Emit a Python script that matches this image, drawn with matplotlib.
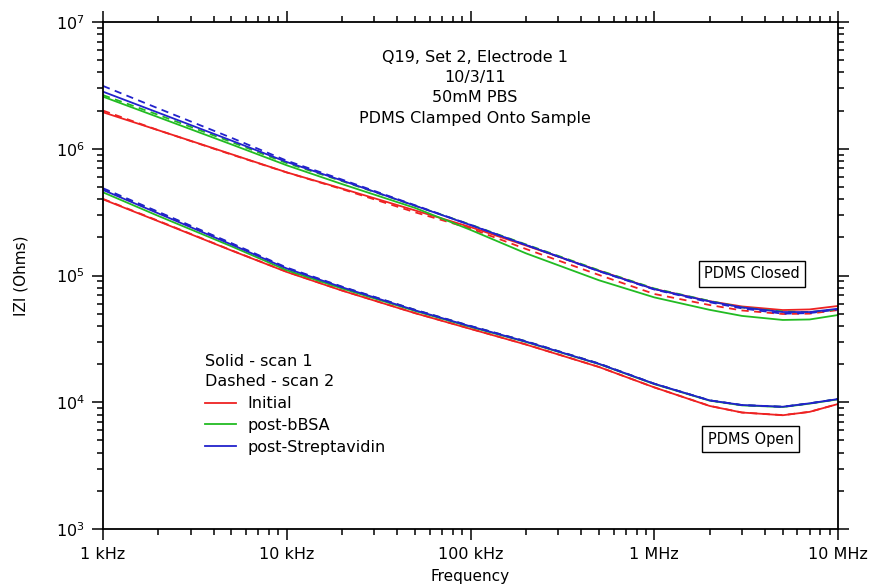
import matplotlib
matplotlib.use("Agg")
import matplotlib.pyplot as plt
from matplotlib.ticker import FixedLocator, LogLocator, NullFormatter, FixedFormatter

plt.rcParams['font.family'] = ['DejaVu Sans']

# frequencies (Hz)
freq = [1e3, 2e3, 5e3, 1e4, 2e4, 5e4, 1e5, 2e5, 5e5, 1e6, 2e6, 3e6, 5e6, 7e6, 1e7]

# PDMS closed, |Z| in Ohms
closed_init_1 = [1.94e6, 1.40e6, 9.06e5, 6.51e5, 4.85e5, 3.26e5, 2.41e5, 1.725e5, 1.093e5, 7.83e4, 6.27e4, 5.7e4, 5.34e4, 5.4e4, 5.75e4]
closed_init_2 = [2.00e6, 1.40e6, 9.00e5, 6.50e5, 4.80e5, 3.15e5, 2.35e5, 1.62e5, 1.01e5, 7.15e4, 5.85e4, 5.3e4, 4.97e4, 5.0e4, 5.34e4]
closed_bbsa_1 = [2.575e6, 1.774e6, 1.082e6, 7.40e5, 5.26e5, 3.41e5, 2.29e5, 1.497e5, 9.17e4, 6.72e4, 5.36e4, 4.8e4, 4.46e4, 4.5e4, 4.88e4]
closed_bbsa_2 = [2.65e6, 1.85e6, 1.13e6, 7.70e5, 5.55e5, 3.55e5, 2.52e5, 1.76e5, 1.10e5, 7.90e4, 6.30e4, 5.6e4, 5.2e4, 5.15e4, 5.4e4]
closed_strep_1 = [2.82e6, 1.925e6, 1.16e6, 7.86e5, 5.61e5, 3.55e5, 2.50e5, 1.743e5, 1.085e5, 7.81e4, 6.25e4, 5.6e4, 5.15e4, 5.15e4, 5.47e4]
closed_strep_2 = [3.13e6, 2.08e6, 1.22e6, 8.05e5, 5.71e5, 3.58e5, 2.51e5, 1.74e5, 1.08e5, 7.75e4, 6.15e4, 5.5e4, 5.0e4, 5.05e4, 5.4e4]

# PDMS open, |Z| in Ohms
open_init_1 = [3.99e5, 2.68e5, 1.575e5, 1.066e5, 7.60e4, 5.04e4, 3.79e4, 2.855e4, 1.897e4, 1.31e4, 9.35e3, 8.3e3, 7.9e3, 8.4e3, 9.69e3]
open_init_2 = [4.02e5, 2.70e5, 1.58e5, 1.07e5, 7.62e4, 5.05e4, 3.80e4, 2.86e4, 1.90e4, 1.31e4, 9.37e3, 8.3e3, 7.92e3, 8.4e3, 9.7e3]
open_bbsa_1 = [4.53e5, 2.95e5, 1.70e5, 1.10e5, 7.90e4, 5.25e4, 3.93e4, 2.99e4, 2.00e4, 1.39e4, 1.03e4, 9.45e3, 9.17e3, 9.75e3, 1.055e4]
open_bbsa_2 = [4.80e5, 3.15e5, 1.78e5, 1.14e5, 8.12e4, 5.35e4, 3.99e4, 3.03e4, 2.02e4, 1.40e4, 1.035e4, 9.5e3, 9.22e3, 9.8e3, 1.06e4]
open_strep_1 = [4.73e5, 3.09e5, 1.756e5, 1.136e5, 8.07e4, 5.31e4, 3.97e4, 3.01e4, 2.01e4, 1.40e4, 1.035e4, 9.51e3, 9.22e3, 9.81e3, 1.06e4]
open_strep_2 = [4.88e5, 3.18e5, 1.80e5, 1.155e5, 8.17e4, 5.36e4, 4.00e4, 3.03e4, 2.02e4, 1.40e4, 1.035e4, 9.5e3, 9.2e3, 9.8e3, 1.06e4]

labels = ['Initial', 'post-bBSA', 'post-Streptavidin']
colors = ['#ee2222', '#22bb22', '#2222cc']

tick_vals = [1e3, 1e4, 1e5, 1e6, 1e7]
tick_labels = ['1 kHz', '10 kHz', '100 kHz', '1 MHz', '10 MHz']

fig = plt.figure(figsize=(8.73, 5.85), dpi=100)
ax = fig.add_axes([0.118, 0.0957, 0.842, 0.8667])

solid = [(closed_init_1, open_init_1), (closed_bbsa_1, open_bbsa_1), (closed_strep_1, open_strep_1)]
dashed = [(closed_init_2, open_init_2), (closed_bbsa_2, open_bbsa_2), (closed_strep_2, open_strep_2)]

handles = []
for i in range(3):
    h, = ax.plot(freq, solid[i][0], color=colors[i], lw=1.3, label=labels[i])
    ax.plot(freq, solid[i][1], color=colors[i], lw=1.3)
    ax.plot(freq, dashed[i][0], color=colors[i], lw=1.3, dashes=(4, 3))
    ax.plot(freq, dashed[i][1], color=colors[i], lw=1.3, dashes=(4, 3))
    handles.append(h)

ax.set_xscale('log')
ax.set_yscale('log')
ax.set_xlim(1e3, 1e7)
ax.set_ylim(1e3, 1e7)

ax.xaxis.set_major_locator(FixedLocator(tick_vals))
ax.xaxis.set_major_formatter(FixedFormatter(tick_labels))
ax.xaxis.set_minor_locator(LogLocator(base=10, subs=range(2, 10)))
ax.xaxis.set_minor_formatter(NullFormatter())
ax.yaxis.set_major_locator(FixedLocator([1e3, 1e4, 1e5, 1e6, 1e7]))
ax.yaxis.set_major_formatter(FixedFormatter([r'$\mathregular{10^{%d}}$' % k for k in range(3, 8)]))
ax.yaxis.set_minor_locator(LogLocator(base=10, subs=range(2, 10)))
ax.yaxis.set_minor_formatter(NullFormatter())

ax.tick_params(which='both', direction='out', top=True, right=True, width=1.1, labelsize=11.5)
ax.tick_params(which='major', length=8, pad=5)
ax.tick_params(which='minor', length=4.5)
for s in ax.spines.values():
    s.set_linewidth(1.3)

ax.set_xlabel('Frequency', fontsize=11, labelpad=5)
ax.set_ylabel('IZI (Ohms)', fontsize=11, labelpad=20)

ax.text(0.506, 0.944, 'Q19, Set 2, Electrode 1\n10/3/11\n50mM PBS\nPDMS Clamped Onto Sample',
        transform=ax.transAxes, ha='center', va='top', fontsize=11.5, linespacing=1.42)

ax.text(3.4e6, 1.03e5, 'PDMS Closed', ha='center', va='center', fontsize=10.5,
        bbox=dict(boxstyle='square,pad=0.38', fc='white', ec='black', lw=1))
ax.text(3.35e6, 5.13e3, 'PDMS Open', ha='center', va='center', fontsize=10.5,
        bbox=dict(boxstyle='square,pad=0.38', fc='white', ec='black', lw=1))

leg = ax.legend(handles=handles, title='Solid - scan 1\nDashed - scan 2', loc='upper left',
                bbox_to_anchor=(0.139, 0.345), frameon=False, fontsize=11.5, title_fontsize=11.5,
                alignment='left', handlelength=1.9, handletextpad=0.75, labelspacing=0.42,
                borderpad=0, borderaxespad=0)
leg.get_title().set_linespacing(1.45)

fig.savefig('out.png', dpi=100)
